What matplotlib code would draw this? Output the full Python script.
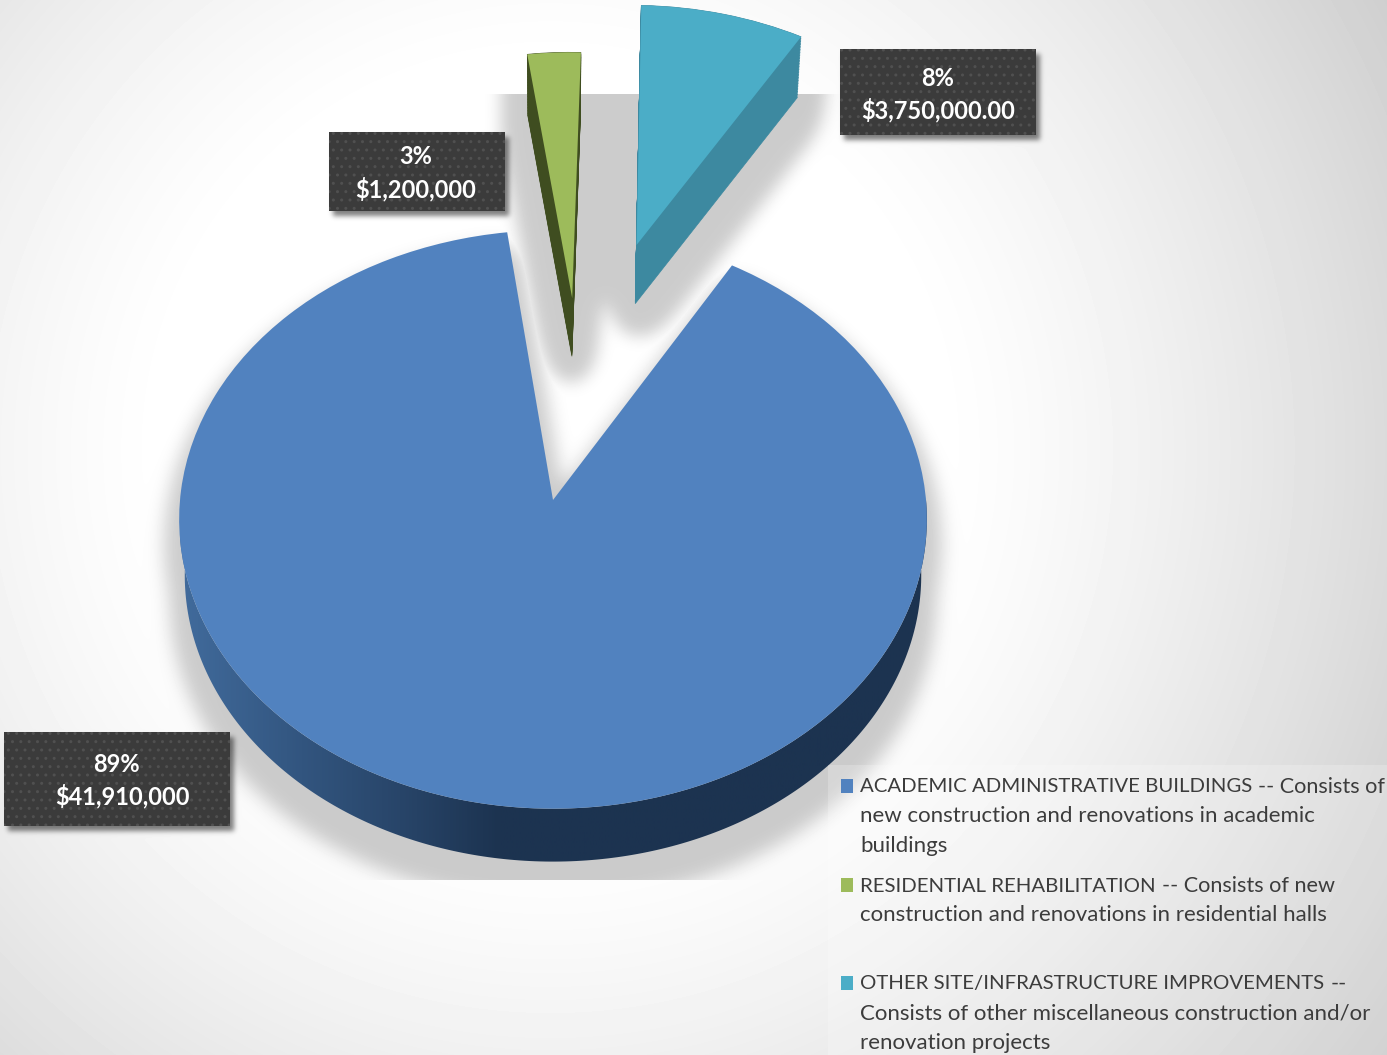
import numpy as np
import matplotlib
matplotlib.use('Agg')
import matplotlib.pyplot as plt
import matplotlib.transforms as mtransforms
from matplotlib.colors import LinearSegmentedColormap
from matplotlib.patches import Polygon, Rectangle, Wedge

W, H = 1387, 1055

# chart data
amounts = [41910000, 1200000, 3750000]
pct_labels = ['89%', '3%', '8%']
money_labels = ['$41,910,000', '$1,200,000', '$3,750,000.00']
legend_lines = [
    ['ACADEMIC ADMINISTRATIVE BUILDINGS -- Consists of',
     'new construction and renovations in academic',
     'buildings'],
    ['RESIDENTIAL REHABILITATION -- Consists of new',
     'construction and renovations in residential halls'],
    ['OTHER SITE/INFRASTRUCTURE IMPROVEMENTS --',
     'Consists of other miscellaneous construction and/or',
     'renovation projects'],
]
top_colors = ['#5182bf', '#9dbb5b', '#4badc7']
side_colors = ['#1c3350', '#3f4d20', '#3d89a0']

# where things sit, in pixels
slice_offsets = [(0, 0), (0.054, 0.735), (0.238, 0.941)]
label_boxes = [(4, 732, 226, 94), (329, 132, 176, 79), (840, 49, 196, 86)]
pct_pos = [(116, 765), (416, 157), (938, 78)]
money_pos = [(122, 796), (416, 189), (938, 110)]
legend_x = 860
legend_y = [[787, 816, 846], [886, 915], [984, 1014, 1043]]

CX, CY, RX, RY, K = 553, 500, 373, 288, 0.067


class TiltTransform(mtransforms.Transform):
    # unit pie plane -> picture pixels, with a bit of perspective
    input_dims = 2
    output_dims = 2

    def transform_non_affine(self, xy):
        xy = np.asarray(xy, dtype=float)
        w = 1 + K * xy[:, 1]
        return np.column_stack([CX + RX * xy[:, 0] / w, CY - RY * xy[:, 1] / w])


def lowered(t):
    # moves the top face down to the bottom face of the pie, t from 0 to 1
    return (mtransforms.Affine2D().translate(-CX, -CY)
            .scale(1 - 0.015 * t, 1 - 0.01 * t)
            .translate(CX, CY + 56 * t))


def blur(img, sigma):
    fy = np.fft.fftfreq(img.shape[0])[:, None]
    fx = np.fft.rfftfreq(img.shape[1])[None, :]
    g = np.exp(-2 * (np.pi * sigma) ** 2 * (fx ** 2 + fy ** 2))
    return np.fft.irfft2(np.fft.rfft2(img) * g, s=img.shape)


def render_mask():
    fig.canvas.draw()
    buf = np.asarray(fig.canvas.buffer_rgba())[:, :, :3]
    return (buf.min(axis=2) < 250).astype(float)


plt.rcParams['font.family'] = ['Lato', 'DejaVu Sans']
plt.rcParams['hatch.linewidth'] = 1.0

fig = plt.figure(figsize=(W / 100, H / 100), dpi=100, facecolor='white')
ax = fig.add_axes([0, 0, 1, 1])
tilt = TiltTransform()

wedges, _ = ax.pie(amounts, colors=top_colors, startangle=59.5, counterclock=False,
                   radius=1, wedgeprops={'linewidth': 0})
ax.set_aspect('auto')
ax.set_xlim(0, W)
ax.set_ylim(H, 0)
ax.axis('off')

loose_parts = []
for w, off, side in zip(wedges, slice_offsets, side_colors):
    w.set_center(off)
    w.set_transform(tilt + ax.transData)
    w.set_zorder(3)
    w.set_clip_on(False)
    if off == (0, 0):
        continue
    loose_parts.append(w)
    for t in np.linspace(0, 1, 40):
        loose_parts.append(ax.add_patch(
            Wedge(w.center, w.r, w.theta1, w.theta2, facecolor=side, edgecolor=side,
                  linewidth=0.5, zorder=2, transform=tilt + lowered(t) + ax.transData)))

# outer wall of the big slice, fades from left to right
th = np.radians(np.linspace(180, 360, 240))
rim = tilt.transform(np.column_stack([np.cos(th), np.sin(th)]))
rim_low = lowered(1).transform(rim)
wall = Polygon(np.vstack([rim, rim_low[::-1]]), closed=True, transform=ax.transData,
               facecolor='none', edgecolor='none')
ax.add_patch(wall)
wall_cmap = LinearSegmentedColormap.from_list(
    'wall', [(0, '#416b9c'), (0.16, '#32557f'), (0.29, '#284569'), (0.42, '#1c3350'), (1, '#1c3350')])
grad = ax.imshow(np.linspace(0, 1, 512)[None, :], cmap=wall_cmap, extent=(180, 940, 900, 500),
                 aspect='auto', zorder=2)
grad.set_clip_path(wall)
ax.set_xlim(0, W)
ax.set_ylim(H, 0)

# render to get outlines for the soft shadows
for p in loose_parts:
    p.set_visible(False)
big_mask = render_mask()
for p in loose_parts:
    p.set_visible(True)
loose_mask = np.clip(render_mask() - big_mask, 0, 1)

yy, xx = np.mgrid[0:H, 0:W]
dist = np.hypot((xx - 550) / 1000, (yy - 450) / 1000)
bg = 255 - 100 * np.clip(dist - 0.38, 0, None) ** 1.3

# all shadows fall downward, the loose slices spread a bit wider
big_shadow = np.roll((blur(big_mask, 9) > 0.05).astype(float), 25, axis=0)
big_shadow = blur(big_shadow, 9)
loose_shadow = np.roll((blur(loose_mask, 14) > 0.03).astype(float), 18, axis=0)
loose_shadow = blur(loose_shadow, 8)
shadow = np.maximum(big_shadow, loose_shadow) * 0.2
shadow[:94] = 0
shadow[880:] = 0
bg = bg * (1 - shadow)

for (x, y, bw, bh) in label_boxes:
    box = np.zeros((H, W))
    box[y + 5:y + bh + 5, x + 4:x + bw + 4] = 1
    bg = bg * (1 - 0.5 * blur(box, 2.5))

ax.imshow(bg, cmap='gray', vmin=0, vmax=255, extent=(0, W, H, 0), aspect='auto', zorder=0)
ax.set_xlim(0, W)
ax.set_ylim(H, 0)

# data labels
for (x, y, bw, bh), pct, money, p1, p2 in zip(label_boxes, pct_labels, money_labels, pct_pos, money_pos):
    ax.add_patch(Rectangle((x, y), bw, bh, facecolor='#3b3b3b', edgecolor='#505050',
                           hatch='..', linewidth=0, zorder=5))
    ax.text(p1[0], p1[1], pct, color='white', fontsize=17, fontweight='bold',
            ha='center', va='center', zorder=6)
    ax.text(p2[0], p2[1], money, color='white', fontsize=17, fontweight='bold',
            ha='center', va='center', zorder=6)

# legend panel
ax.add_patch(Rectangle((828, 765), W - 828, H - 765, facecolor='white', alpha=0.22,
                       linewidth=0, zorder=4))
renderer = fig.canvas.get_renderer()
for lines, ys, col in zip(legend_lines, legend_y, top_colors):
    ax.add_patch(Rectangle((841, ys[0] - 8), 12, 14, facecolor=col, linewidth=0, zorder=5))
    for line, y in zip(lines, ys):
        if ' --' not in line:
            ax.text(legend_x, y, line, color='#3c3c3c', fontsize=16, ha='left', va='center', zorder=6)
            continue
        # Lato capitals run wide, so the capitals part gets a smaller size
        caps, rest = line.split(' --')
        t = ax.text(legend_x, y, caps, color='#3c3c3c', fontsize=14.7, ha='left', va='center', zorder=6)
        x_end = t.get_window_extent(renderer).x1
        ax.text(x_end + 6, y, '--' + rest, color='#3c3c3c', fontsize=15.6, ha='left', va='center', zorder=6)

fig.savefig('out.png', dpi=100)
plt.close(fig)
